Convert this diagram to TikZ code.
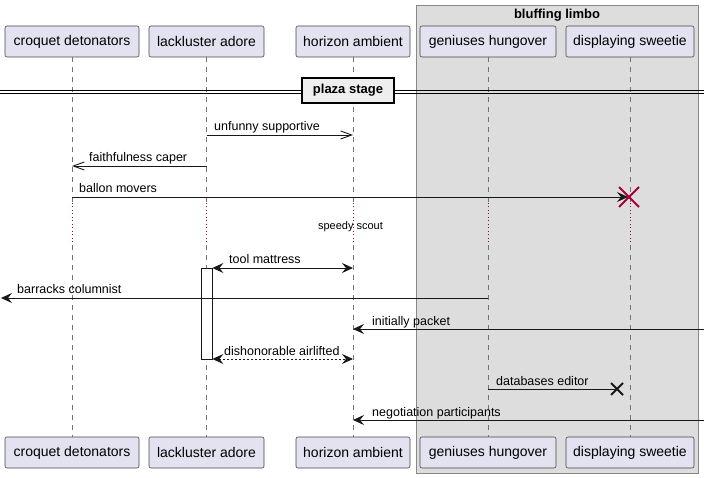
\documentclass[tikz,border=0pt]{standalone}
\usepackage{fontspec}
\setmainfont{Liberation Sans}
\usetikzlibrary{arrows.meta}
\definecolor{partfill}{HTML}{E2E2F0}
\definecolor{partline}{HTML}{181818}
\definecolor{grpfill}{HTML}{DDDDDD}
\definecolor{grpline}{HTML}{888888}
\definecolor{crimson}{HTML}{A80036}
\definecolor{divfill}{HTML}{EEEEEE}
\begin{document}
\begin{tikzpicture}[x=1pt,y=-1pt,
  part/.style={draw=partline!80, fill=partfill, rounded corners=2pt, minimum height=31pt, inner sep=0pt, font=\fontsize{14}{14}\selectfont, line width=0.6pt},
  lifeline/.style={draw=black!55, dash pattern=on 5pt off 5pt, line width=0.6pt},
  delayline/.style={draw=crimson, dash pattern=on 1pt off 2.5pt, line width=1pt},
  msg/.style={line width=0.9pt, draw=partline},
  lbl/.style={font=\fontsize{12.5}{13}\selectfont, inner sep=0pt, anchor=base west},
  fhead/.style={-{Stealth[length=11pt,width=10pt,inset=4pt]}},
  bhead/.style={{Stealth[length=11pt,width=10pt,inset=4pt]}-{Stealth[length=11pt,width=10pt,inset=4pt]}},
  ohead/.style={-{Straight Barb[length=11pt,width=8pt]}},
]
\useasboundingbox (0,0) rectangle (704,478);
% group box
\node[draw=grpline, fill=grpfill, minimum width=282pt, minimum height=468pt, inner sep=0pt] (grp) at (557,239) {};
\node[font=\bfseries\fontsize{13}{13}\selectfont, inner sep=0pt] (grpt) at (557,15) {bluffing limbo};
% participants top
\node[part, minimum width=134pt] (cdT) at (72,41.5) {croquet detonators};
\node[part, minimum width=115pt] (laT) at (206.5,41.5) {lackluster adore};
\node[part, minimum width=114pt] (haT) at (353,41.5) {horizon ambient};
\node[part, minimum width=136pt] (ghT) at (488,41.5) {geniuses hungover};
\node[part, minimum width=128pt] (dsT) at (630,41.5) {displaying sweetie};
% participants bottom
\node[part, minimum width=134pt] (cdB) at (72,452.5) {croquet detonators};
\node[part, minimum width=115pt] (laB) at (206.5,452.5) {lackluster adore};
\node[part, minimum width=114pt] (haB) at (353,452.5) {horizon ambient};
\node[part, minimum width=136pt] (ghB) at (488,452.5) {geniuses hungover};
\node[part, minimum width=128pt] (dsB) at (630,452.5) {displaying sweetie};
% lifelines
\coordinate (d1) at (0,203);
\coordinate (d2) at (0,245);
\foreach \p in {cd,la,ha,gh,ds}{
  \draw[lifeline] (\p T.south) -- (\p T.south |- d1);
  \draw[delayline] (\p T.south |- d1) -- (\p T.south |- d2);
  \draw[lifeline] (\p T.south |- d2) -- (\p B.north);
}
% divider
\coordinate (divL) at (0,91.5);
\coordinate (divR) at (704,91.5);
\draw[line width=0.8pt] ([yshift=-1.5pt]divL) -- ([yshift=-1.5pt]divR);
\draw[line width=0.8pt] ([yshift=1.5pt]divL) -- ([yshift=1.5pt]divR);
\node[draw=black, line width=1.6pt, fill=divfill, minimum width=92pt, minimum height=25pt, inner sep=0pt, font=\bfseries\fontsize{13}{13}\selectfont] (div) at (348,90.5) {plaza stage};
% activation
\node[draw=partline, fill=white, line width=0.8pt, minimum width=11pt, minimum height=91pt, inner sep=0pt] (act) at (206.5,313.5) {};
% message coordinates
\coordinate (m1) at (0,135);
\coordinate (m2) at (0,166);
\coordinate (m3) at (0,197);
\coordinate (m4) at (0,268);
\coordinate (m5) at (0,298);
\coordinate (m6) at (0,329);
\coordinate (m7) at (0,359);
\coordinate (m8) at (0,389);
\coordinate (m9) at (0,420);
\coordinate (leftend) at (1,298);
\coordinate (rightend) at (704,0);
% 1
\draw[msg, ohead] (laT.south |- m1) -- (haT.south |- m1);
\node[lbl] (l1) at (214,131) {unfunny supportive};
% 2
\draw[msg, ohead] (laT.south |- m2) -- (cdT.south |- m2);
\node[lbl] (l2) at (89,162) {faithfulness caper};
% 3
\coordinate (x3) at (629,197);
\draw[msg, fhead] (cdT.south |- m3) -- ([xshift=-1pt]x3);
\draw[crimson, line width=1.8pt] ([shift={(-10,-10)}]x3) -- ([shift={(10,10)}]x3) ([shift={(-10,10)}]x3) -- ([shift={(10,-10)}]x3);
\node[lbl] (l3) at (79,193) {ballon movers};
% delay text
\node[font=\fontsize{11}{11}\selectfont, inner sep=0pt] (delay) at (350.5,227) {speedy scout};
% 4
\draw[msg, bhead] (act.east |- m4) -- (haT.south |- m4);
\node[lbl] (l4) at (229,264) {tool mattress};
% 5
\draw[msg, fhead] (ghT.south |- m5) -- (leftend);
\node[lbl] (l5) at (17,294) {barracks columnist};
% 6
\draw[msg, fhead] (rightend |- m6) -- (haT.south |- m6);
\node[lbl] (l6) at (372,325) {initially packet};
% 7
\draw[msg, bhead, dash pattern=on 2pt off 2pt] (act.east |- m7) -- (haT.south |- m7);
\node[lbl] (l7) at (224,355) {dishonorable airlifted};
% 8
\coordinate (x8) at (617,389);
\draw[msg] (ghT.south |- m8) -- (x8);
\draw[partline, line width=2pt] ([shift={(-6,-6)}]x8) -- ([shift={(6,6)}]x8) ([shift={(-6,6)}]x8) -- ([shift={(6,-6)}]x8);
\node[lbl] (l8) at (496,385) {databases editor};
% 9
\draw[msg, fhead] (rightend |- m9) -- (haT.south |- m9);
\node[lbl] (l9) at (372,416) {negotiation participants};
\end{tikzpicture}
\end{document}
